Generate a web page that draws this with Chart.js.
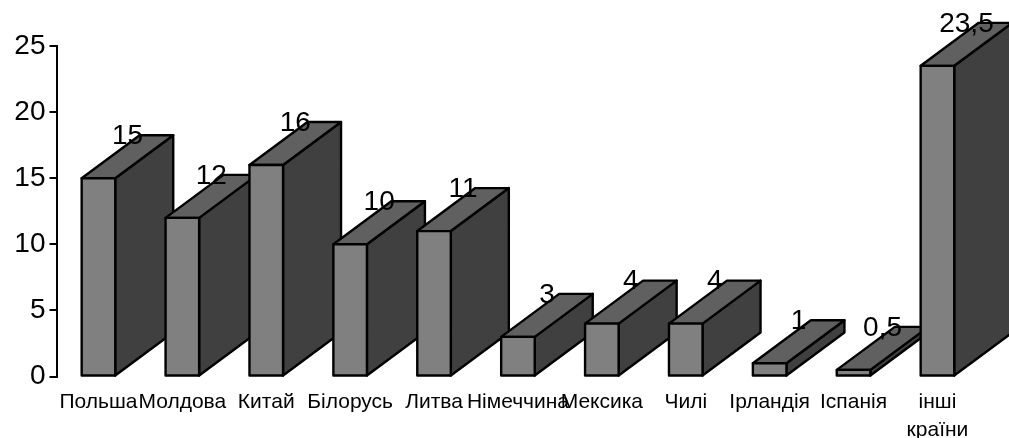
<!DOCTYPE html>
<html>
<head>
<meta charset="utf-8">
<title>Chart</title>
<script src="https://cdn.jsdelivr.net/npm/chart.js@4"></script>
<style>
    html, body { margin: 0; padding: 0; background: #fff; overflow: hidden; }
    canvas { display: block; }
</style>
</head>
<body>
<canvas id="myChart" width="1009" height="438"></canvas>
<script>
const categories = ['Польша', 'Молдова', 'Китай', 'Білорусь', 'Литва', 'Німеччина', 'Мексика', 'Чилі', 'Ірландія', 'Іспанія', ['інші', 'країни']];
const values = [15, 12, 16, 10, 11, 3, 4, 4, 1, 0.5, 23.5];
const yTicks = [0, 5, 10, 15, 20, 25];

const DEPTH_X = 58;
const DEPTH_Y = 43;
const FONT = 'Arial, "Liberation Sans", sans-serif';

function polygon(ctx, points, fill) {
    ctx.beginPath();
    points.forEach(function (p, i) {
        if (i === 0) ctx.moveTo(p[0], p[1]);
        else ctx.lineTo(p[0], p[1]);
    });
    ctx.closePath();
    ctx.fillStyle = fill;
    ctx.fill();
    ctx.stroke();
}

// bars are painted left to right so each one covers the depth of the previous
const boxes = {
    id: 'boxes',
    beforeDatasetDraw: function (chart, args) {
        const ctx = chart.ctx;
        const bars = args.meta.data;
        ctx.save();
        ctx.lineWidth = 2.4;
        ctx.lineJoin = 'round';
        ctx.strokeStyle = '#000';
        bars.forEach(function (bar) {
            const l = bar.x - bar.width / 2;
            const r = bar.x + bar.width / 2;
            const t = bar.y;
            const b = bar.base;
            polygon(ctx, [[r, t], [r + DEPTH_X, t - DEPTH_Y], [r + DEPTH_X, b - DEPTH_Y], [r, b]], '#404040');
            polygon(ctx, [[l, t], [l + DEPTH_X, t - DEPTH_Y], [r + DEPTH_X, t - DEPTH_Y], [r, t]], '#606060');
            bar.draw(ctx);
            ctx.strokeRect(l, t, bar.width, b - t);
        });
        ctx.restore();
        return false;
    },
    afterDatasetsDraw: function (chart) {
        const ctx = chart.ctx;
        const bars = chart.getDatasetMeta(0).data;
        ctx.save();
        ctx.fillStyle = '#000';
        ctx.font = '28px ' + FONT;
        ctx.textAlign = 'center';
        ctx.textBaseline = 'middle';
        bars.forEach(function (bar, i) {
            const label = String(values[i]).replace('.', ',');
            ctx.fillText(label, bar.x + DEPTH_X / 2, bar.y - DEPTH_Y + 1);
        });
        ctx.restore();
    }
};

let ctx = document.getElementById('myChart').getContext('2d');
let myChart = new Chart(ctx, {
    type: 'bar',
    data: {
        labels: categories,
        datasets: [{
            data: values,
            backgroundColor: '#808080',
            borderWidth: 0,
            categoryPercentage: 1,
            barPercentage: 0.4
        }]
    },
    options: {
        responsive: false,
        animation: false,
        layout: { padding: { top: 46, right: 29.6, left: 0, bottom: 0 } },
        plugins: { legend: { display: false }, tooltip: { enabled: false } },
        scales: {
            x: {
                grid: { display: false, drawTicks: false },
                border: { display: false },
                afterFit: function (scale) { scale.height = 61.5; },
                ticks: {
                    autoSkip: false,
                    maxRotation: 0,
                    minRotation: 0,
                    padding: 12,
                    color: '#000',
                    font: { family: FONT, size: 21, lineHeight: 1.33 }
                }
            },
            y: {
                min: 0,
                max: 25,
                afterFit: function (scale) { scale.width = 56.5; },
                afterBuildTicks: function (scale) {
                    scale.ticks = yTicks.map(function (v) { return { value: v }; });
                },
                grid: { drawOnChartArea: false, drawTicks: true, tickLength: 7, color: '#000', lineWidth: 2 },
                border: { display: true, color: '#000', width: 2 },
                ticks: {
                    padding: 4,
                    color: '#000',
                    font: { family: FONT, size: 28 }
                }
            }
        }
    },
    plugins: [boxes]
});
</script>
</body>
</html>
